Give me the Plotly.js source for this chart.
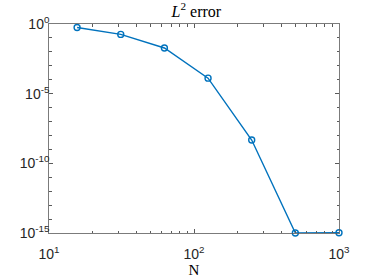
<!DOCTYPE html>
<html>
<head>
<script src="https://cdn.plot.ly/plotly-3.0.1.min.js"></script>
<style>body{margin:0;padding:0;background:#fff;}#chart{width:374px;height:280px;}</style>
</head>
<body>
<div id="chart"></div>
<script>
const N = [15.625, 31.25, 62.5, 125, 250, 500, 1000];
const err = [0.56, 0.18, 0.019, 1.3e-4, 4.7e-9, 1.0e-15, 1.05e-15];
const xTickVals = [10, 100, 1000];
const xTickText = ['10<sup>1</sup>', '10<sup>2</sup>', '10<sup>3</sup>'];
const yTickVals = [1e-15, 1e-10, 1e-5, 1];
const yTickText = ['10<sup>-15</sup>', '10<sup>-10</sup>', '10<sup>-5</sup>', '10<sup>0</sup>'];

const trace = {
  x: N, y: err, type: 'scatter', mode: 'lines+markers', cliponaxis: false,
  line: {color: '#0072BD', width: 1.4},
  marker: {symbol: 'circle-open', size: 6, color: '#0072BD', line: {width: 1.4, color: '#0072BD'}}
};
const axCommon = {
  type: 'log', showgrid: false, zeroline: false, showline: true, mirror: 'ticks',
  linecolor: '#5a5a5a', linewidth: 0.8, ticks: 'inside', ticklen: 4, tickcolor: '#5a5a5a',
  tickfont: {family: 'Liberation Sans, Arial, sans-serif', size: 14, color: '#262626'}
};
const layout = {
  width: 374, height: 280,
  margin: {l: 49, r: 35, t: 24, b: 47},
  paper_bgcolor: '#fff', plot_bgcolor: '#fff',
  showlegend: false,
  title: {text: '<i>L</i><sup>2</sup> error', font: {family: 'Liberation Serif, Times New Roman, serif', size: 16, color: '#000'}, x: 0.525, xanchor: 'center', y: 0.98, yanchor: 'top'},
  xaxis: Object.assign({}, axCommon, {
    range: [1, 3], tickmode: 'array', tickvals: xTickVals, ticktext: xTickText,
    ticklabelstandoff: 8,
    minor: {ticks: 'inside', ticklen: 2.5, tickcolor: '#5a5a5a', dtick: 'D1', showgrid: false},
    title: {text: 'N', font: {family: 'Liberation Serif, Times New Roman, serif', size: 15, color: '#000'}, standoff: 0}
  }),
  yaxis: Object.assign({}, axCommon, {
    range: [-15, 0], tickmode: 'array', tickvals: yTickVals, ticktext: yTickText,
    ticklabelstandoff: -4,
    minor: {ticks: 'inside', ticklen: 2.5, tickcolor: '#5a5a5a', tick0: 0, dtick: 1, showgrid: false}
  })
};
Plotly.newPlot('chart', [trace], layout, {displayModeBar: false, staticPlot: true});
</script>
</body>
</html>
